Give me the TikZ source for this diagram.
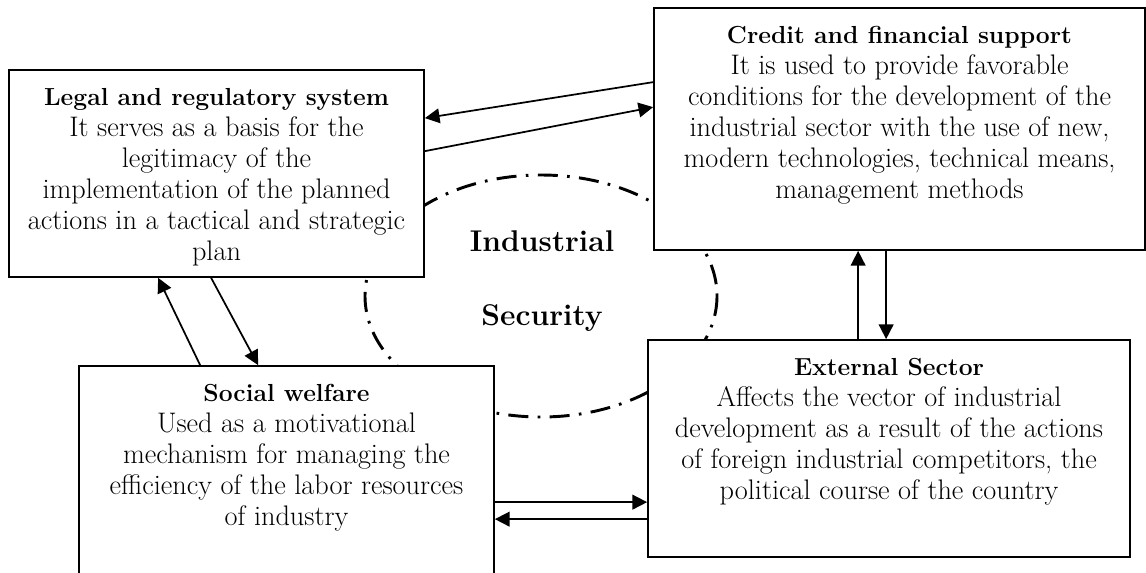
\documentclass[tikz,border=0pt]{standalone}
\usetikzlibrary{calc,fit,arrows.meta}

\tikzset{
	box/.style={draw, line width=1.3pt, fill=white, inner sep=0pt},
	boxtext/.style={anchor=north, align=center, inner sep=0pt, font=\fontsize{21.2}{23.25}\selectfont},
	link/.style={line width=1.3pt, -{Triangle[length=11pt,width=11pt]}},
	ring/.style={line width=2.2pt, dash pattern=on 15pt off 7pt on 2pt off 7pt},
	bigword/.style={anchor=base, inner sep=0pt, font=\fontsize{22.5}{26}\selectfont\bfseries}
}
\newcommand{\boxtitle}[1]{{\fontsize{18.5}{23.25}\selectfont\bfseries #1}}

\begin{document}
\begin{tikzpicture}[x=0.75pt,y=-0.75pt]
			%%%%% START %%%%%
			\useasboundingbox (0,0) rectangle (1146,572);
			\clip (0,0) rectangle (1146,572);
			
			\draw[ring] (541,296) ellipse (176 and 121);
			
			\node[box, fit={(9,70) (424,277)}] (legal) {};
			\node[box, fit={(654,8) (1145,250)}] (credit) {};
			\node[box, fit={(79,366) (494,600)}] (social) {};
			\node[box, fit={(648,340) (1130,557)}] (external) {};
			
			\node[boxtext] (legaltext) at ($(legal.north)+(0,19)$) {\boxtitle{Legal and regulatory system}\\
				It serves as a basis for the\\ legitimacy of the\\ implementation of the planned\\
				actions in a tactical and strategic\\ plan};
			\node[boxtext] (credittext) at ($(credit.north)+(0,19)$) {\boxtitle{Credit and financial support}\\
				It is used to provide favorable\\ conditions for the development of the\\
				industrial sector with the use of new,\\ modern technologies, technical means,\\ management methods};
			\node[boxtext] (socialtext) at ($(social.north)+(0,19)$) {\boxtitle{Social welfare}\\
				Used as a motivational\\ mechanism for managing the\\ efficiency of the labor resources\\ of industry};
			\node[boxtext] (externaltext) at ($(external.north)+(0,19)$) {\boxtitle{External Sector}\\
				Affects the vector of industrial\\ development as a result of the actions\\
				of foreign industrial competitors, the\\ political course of the country};
			
			\node[bigword] (industrial) at (542,251) {Industrial};
			\node[bigword] (security) at (542,325) {Security};
			
			% legal <-> credit
			\draw[link] ($(credit.north west)+(0,75)$) -- ($(legal.north east)+(0,49)$);
			\draw[link] ($(legal.north east)+(0,82)$) -- ($(credit.north west)+(0,100)$);
			
			% legal <-> social
			\draw[link] ($(social.north west)+(122,0)$) -- ($(legal.south west)+(150,0)$);
			\draw[link] ($(legal.south west)+(203,0)$) -- ($(social.north west)+(180,0)$);
			
			% credit <-> external
			\draw[link] ($(external.north west)+(211,0)$) -- ($(credit.south west)+(205,0)$);
			\draw[link] ($(credit.south west)+(233,0)$) -- ($(external.north west)+(239,0)$);
			
			% social <-> external
			\draw[link] ($(social.north east)+(0,137)$) -- ($(external.north west)+(0,163)$);
			\draw[link] ($(external.north west)+(0,180)$) -- ($(social.north east)+(0,154)$);
			
			%%%%% END %%%%%
\end{tikzpicture}
\end{document}
